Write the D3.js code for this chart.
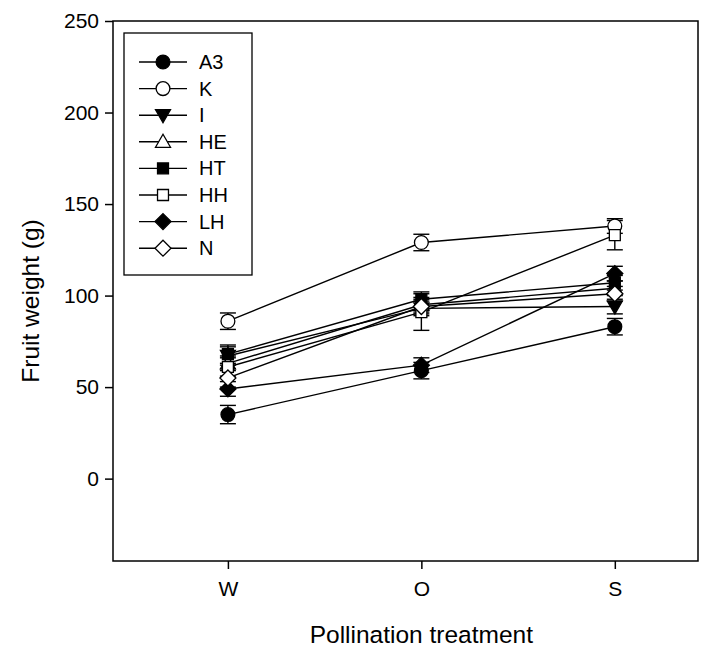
<!DOCTYPE html>
<html><head><meta charset="utf-8">
<script src="https://cdn.jsdelivr.net/npm/d3@7"></script>
<style>body{margin:0;background:#fff}svg{display:block}text{font-family:Arial,"Liberation Sans",sans-serif;fill:#000}</style>
</head><body><div id="chart"></div>
<script>
const categories = ["W", "O", "S"];
const seriesNames = ["A3", "K", "I", "HE", "HT", "HH", "LH", "N"];
const valA3 = [35, 59, 83];
const valK  = [86, 129, 138];
const valI  = [67, 93, 94];
const valHE = [63, 95, 104];
const valHT = [68, 98, 107];
const valHH = [61, 91, 133];
const valLH = [49, 62, 112];
const valN  = [55, 94, 101];
const errA3 = [5, 4.5, 4.5];
const errK  = [4.5, 4.5, 4];
const errI  = [5, 4, 4];
const errHE = [4, 4, 4];
const errHT = [5, 4, 4];
const errHH = [5, 10, 8];
const errLH = [4, 4, 4];
const errN  = [5, 4, 4];
const yTicks = [0, 50, 100, 150, 200, 250];
const xTitle = "Pollination treatment";
const yTitle = "Fruit weight (g)";

const markerShape = {A3:"circle",K:"circle",I:"triDown",HE:"triUp",HT:"square",HH:"square",LH:"diamond",N:"diamond"};
const markerFill = {A3:"#000",K:"#fff",I:"#000",HE:"#fff",HT:"#000",HH:"#fff",LH:"#000",N:"#fff"};

const series = [
  {name:"A3", v:valA3, e:errA3},{name:"K", v:valK, e:errK},{name:"I", v:valI, e:errI},
  {name:"HE", v:valHE, e:errHE},{name:"HT", v:valHT, e:errHT},{name:"HH", v:valHH, e:errHH},
  {name:"LH", v:valLH, e:errLH},{name:"N", v:valN, e:errN}
];

const W = 718, H = 648;
const L = 113, R = 698, T = 21, B = 561;
const FONT = "Arial, 'Liberation Sans', sans-serif";
const svg = d3.select("#chart").append("svg").attr("width", W).attr("height", H);

const x = d3.scaleLinear().domain([0.406, 3.43]).range([L, R]);
const y = d3.scaleLinear().domain([-45, 250]).range([B, T]);
const xi = i => x(i + 1);

function symPath(shape){
  if (shape === "circle") return d3.symbol(d3.symbolCircle, 150)();
  if (shape === "square") return d3.symbol(d3.symbolSquare, 120)();
  if (shape === "diamond") return "M0,-8L8,0L0,8L-8,0Z";
  if (shape === "triUp") return "M0,-7.5L7.5,5.5L-7.5,5.5Z";
  return "M0,7.5L7.5,-5.5L-7.5,-5.5Z";
}

svg.append("rect").attr("x", L).attr("y", T).attr("width", R - L).attr("height", B - T)
  .attr("fill", "none").attr("stroke", "#000").attr("stroke-width", 1.5);

const yAxis = d3.axisLeft(y).tickValues(yTicks).tickSize(8).tickPadding(6);
const gy = svg.append("g").attr("transform", `translate(${L},0)`).call(yAxis);
gy.select(".domain").remove();
gy.selectAll("line").attr("stroke", "#000").attr("stroke-width", 1.5);
gy.selectAll("text").attr("font-size", 21).attr("font-family", FONT);

const xAxis = d3.axisBottom(x).tickValues([1, 2, 3]).tickFormat((d) => categories[d - 1]).tickSize(8).tickPadding(12);
const gx = svg.append("g").attr("transform", `translate(0,${B})`).call(xAxis);
gx.select(".domain").remove();
gx.selectAll("line").attr("stroke", "#000").attr("stroke-width", 1.5);
gx.selectAll("text").attr("font-size", 21).attr("font-family", FONT);

svg.append("text").attr("x", xi(1)).attr("y", 643).attr("text-anchor", "middle")
  .attr("font-size", 24.5).text(xTitle);
svg.append("text").attr("transform", `translate(39,301) rotate(-90)`).attr("text-anchor", "middle")
  .attr("font-size", 24.5).text(yTitle);

const line = d3.line().x((d, i) => xi(i)).y(d => y(d));
const plot = svg.append("g");
series.forEach(s => {
  plot.append("path").attr("d", line(s.v)).attr("fill", "none").attr("stroke", "#000").attr("stroke-width", 1.4);
});
series.forEach(s => {
  s.v.forEach((v, i) => {
    const cx = xi(i), cw = 8;
    const g = plot.append("g").attr("stroke", "#000").attr("stroke-width", 1.4);
    g.append("line").attr("x1", cx).attr("x2", cx).attr("y1", y(v - s.e[i])).attr("y2", y(v + s.e[i]));
    g.append("line").attr("x1", cx - cw).attr("x2", cx + cw).attr("y1", y(v + s.e[i])).attr("y2", y(v + s.e[i]));
    g.append("line").attr("x1", cx - cw).attr("x2", cx + cw).attr("y1", y(v - s.e[i])).attr("y2", y(v - s.e[i]));
  });
});
series.forEach(s => {
  s.v.forEach((v, i) => {
    plot.append("path").attr("d", symPath(markerShape[s.name]))
      .attr("transform", `translate(${xi(i)},${y(v)})`)
      .attr("fill", markerFill[s.name]).attr("stroke", "#000").attr("stroke-width", 1.3);
  });
});

const lg = svg.append("g");
lg.append("rect").attr("x", 124).attr("y", 33).attr("width", 128).attr("height", 242)
  .attr("fill", "#fff").attr("stroke", "#000").attr("stroke-width", 1.3);
series.forEach((s, k) => {
  const cy = 62 + k * 26.6;
  lg.append("line").attr("x1", 139).attr("x2", 187).attr("y1", cy).attr("y2", cy).attr("stroke", "#000").attr("stroke-width", 1.4);
  lg.append("path").attr("d", symPath(markerShape[s.name])).attr("transform", `translate(163,${cy})`)
    .attr("fill", markerFill[s.name]).attr("stroke", "#000").attr("stroke-width", 1.3);
  lg.append("text").attr("x", 199).attr("y", cy + 7).attr("font-size", 20).attr("font-family", FONT).text(s.name);
});
</script></body></html>
